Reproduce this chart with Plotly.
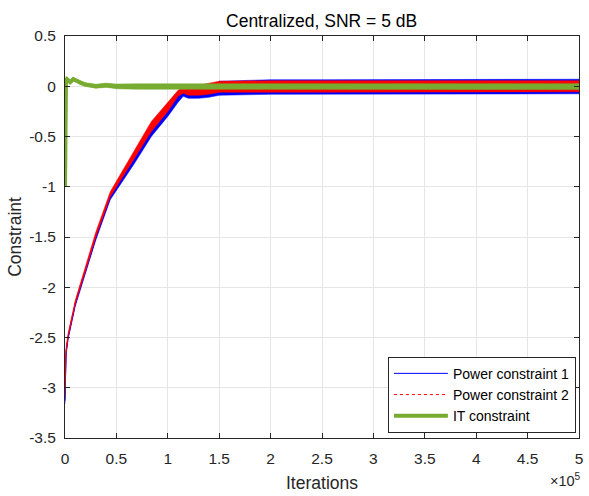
import plotly.graph_objects as go

# iterations in units of 1e5
x_pc = [0, 0.01, 0.03, 0.1, 0.15, 0.22, 0.3, 0.44, 0.52, 0.68, 0.84, 1.0, 1.1, 1.15, 1.2, 1.3, 1.4, 1.5, 2.0, 2.5, 3.0, 3.5, 4.0, 4.5, 5.0]
p1_lo = [-3.16, -2.68, -2.52, -2.19, -2.02, -1.80, -1.53, -1.13, -1.01, -0.76, -0.50, -0.30, -0.16, -0.10, -0.12, -0.12, -0.11, -0.09, -0.08, -0.08, -0.08, -0.08, -0.08, -0.075, -0.075]
p1_hi = [-3.10, -2.64, -2.48, -2.15, -1.98, -1.75, -1.48, -1.08, -0.96, -0.69, -0.43, -0.23, -0.09, -0.05, -0.05, -0.04, -0.03, 0.05, 0.065, 0.065, 0.065, 0.065, 0.065, 0.07, 0.07]
p1_mid = [-3.13, -2.66, -2.50, -2.17, -2.00, -1.78, -1.51, -1.11, -0.99, -0.72, -0.46, -0.26, -0.12, -0.07, -0.08, -0.08, -0.07, -0.02, -0.01, -0.01, -0.01, -0.01, -0.01, -0.01, -0.01]
p2_lo = [-3.10, -2.66, -2.50, -2.17, -2.00, -1.78, -1.50, -1.10, -0.98, -0.71, -0.45, -0.25, -0.10, -0.07, -0.09, -0.09, -0.08, -0.06, -0.055, -0.055, -0.055, -0.055, -0.055, -0.055, -0.055]
p2_hi = [-2.90, -2.60, -2.46, -2.13, -1.96, -1.73, -1.45, -1.05, -0.91, -0.62, -0.35, -0.16, -0.04, -0.01, -0.01, 0.01, 0.03, 0.05, 0.055, 0.055, 0.055, 0.055, 0.055, 0.055, 0.055]
p2_mid = [-3.00, -2.63, -2.48, -2.15, -1.98, -1.76, -1.48, -1.08, -0.95, -0.66, -0.40, -0.20, -0.07, -0.04, -0.05, -0.04, -0.03, 0.00, 0.00, 0.00, 0.00, 0.00, 0.00, 0.00, 0.00]

x_it = [0, 0.004, 0.01, 0.02, 0.05, 0.08, 0.1, 0.15, 0.2, 0.3, 0.4, 0.5, 0.7, 1.0, 1.2, 1.5, 2.0, 3.0, 4.0, 5.0]
it_c = [-1.0, 0.06, 0.08, 0.07, 0.04, 0.07, 0.06, 0.03, 0.015, 0.0, 0.01, 0.0, -0.003, -0.003, -0.005, -0.005, -0.003, -0.003, -0.003, -0.003]
it_lo = [-1.0, 0.04, 0.06, 0.05, 0.025, 0.05, 0.045, 0.015, 0.0, -0.02, -0.01, -0.025, -0.03, -0.03, -0.033, -0.033, -0.033, -0.033, -0.033, -0.033]
it_hi = [-1.0, 0.08, 0.10, 0.09, 0.06, 0.09, 0.08, 0.05, 0.035, 0.02, 0.03, 0.022, 0.025, 0.025, 0.025, 0.025, 0.026, 0.026, 0.026, 0.026]

x_ticks = [0, 0.5, 1, 1.5, 2, 2.5, 3, 3.5, 4, 4.5, 5]
y_ticks = [0.5, 0, -0.5, -1, -1.5, -2, -2.5, -3, -3.5]

BLUE = "#0000ff"
RED = "#ff0000"
GREEN = "#77ac30"
FONT = "Liberation Sans, Arial, Helvetica, sans-serif"
TXT = "#262626"

fig = go.Figure()

def band(x, lo, hi, color):
    fig.add_trace(go.Scatter(
        x=list(x) + list(x)[::-1], y=list(hi) + list(lo)[::-1],
        fill="toself", fillcolor=color, mode="lines",
        line=dict(width=0.5, color=color), showlegend=False, hoverinfo="skip"))

band(x_pc, p1_lo, p1_hi, BLUE)
fig.add_trace(go.Scatter(x=x_pc, y=p1_mid, mode="lines", name="Power constraint 1",
                         line=dict(color=BLUE, width=1)))
band(x_pc, p2_lo, p2_hi, RED)
fig.add_trace(go.Scatter(x=x_pc, y=p2_mid, mode="lines", name="Power constraint 2",
                         line=dict(color=RED, width=1, dash="dot")))
band(x_it, it_lo, it_hi, GREEN)
fig.add_trace(go.Scatter(x=x_it, y=it_c, mode="lines", name="IT constraint",
                         line=dict(color=GREEN, width=4)))

axis_common = dict(
    showline=True, linecolor=TXT, linewidth=1, mirror="allticks",
    ticks="inside", ticklen=5, tickcolor=TXT,
    showgrid=True, gridcolor="#e5e5e5", gridwidth=1, zeroline=False,
    tickfont=dict(family=FONT, size=15.5, color=TXT),
)

fig.update_layout(
    width=589, height=496,
    margin=dict(l=65, r=6, t=36, b=54),
    paper_bgcolor="white", plot_bgcolor="white",
    title=dict(text="Centralized, SNR = 5 dB", x=0.546, xanchor="center", y=0.971, yanchor="top",
               font=dict(family=FONT, size=17.5, color="#000000")),
    xaxis=dict(range=[0, 5], tickvals=x_ticks, ticktext=[f"{v:g}" for v in x_ticks],
               ticklabelstandoff=6,
               title=dict(text="Iterations", font=dict(family=FONT, size=17.5, color=TXT), standoff=11),
               **axis_common),
    yaxis=dict(range=[-3.5, 0.5], tickvals=y_ticks, ticktext=[f"{v:g}" for v in y_ticks],
               ticklabelstandoff=5,
               title=dict(text="Constraint", font=dict(family=FONT, size=17.5, color=TXT), standoff=3),
               **axis_common),
    legend=dict(x=0.994, y=0.013, xanchor="right", yanchor="bottom",
                bgcolor="white", bordercolor=TXT, borderwidth=1,
                font=dict(family=FONT, size=14, color="#000000"),
                tracegroupgap=0, itemwidth=54),
    annotations=[dict(text="×10<sup>5</sup>", xref="paper", yref="paper", x=1.008, y=-0.077,
                      xanchor="right", yanchor="top", showarrow=False,
                      font=dict(family=FONT, size=14.5, color=TXT))],
)

fig.write_html("out.html", config={"displayModeBar": False},
               post_script="document.body.style.margin='0';")
